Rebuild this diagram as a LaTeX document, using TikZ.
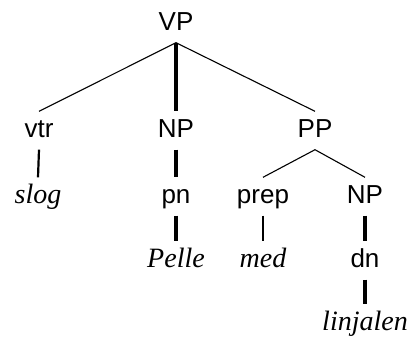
\documentclass[tikz,border=0pt]{standalone}
\usepackage{fontspec}
\setmainfont{Liberation Serif}
\setsansfont{Liberation Sans}
\begin{document}
\begin{tikzpicture}[x=1pt,y=-1pt,
  lab/.style={anchor=base,inner xsep=2pt,inner ysep=6.5pt,text height=19pt,text depth=6pt,font=\sffamily\fontsize{26}{30}\selectfont},
  wrd/.style={lab,font=\itshape\fontsize{28}{32}\selectfont},
  thin/.style={line width=1.1pt},
  mid/.style={line width=2.2pt},
  thick/.style={line width=3.4pt}]
\useasboundingbox (0,0) rectangle (413,341);
\node[lab] (vp) at (176,30) {VP};
\node[lab] (vtr) at (39,137) {vtr};
\node[lab] (np1) at (176,137) {NP};
\node[lab] (pp) at (315,137) {PP};
\node[wrd] (slog) at (38,203) {slog};
\node[lab] (pn) at (176,203) {pn};
\node[lab] (prep) at (263,203) {prep};
\node[lab] (np2) at (365,203) {NP};
\node[wrd] (pelle) at (176,267) {Pelle};
\node[wrd] (med) at (263,267) {med};
\node[lab] (dn) at (365,267) {dn};
\node[wrd] (lin) at (365,330) {linjalen};
\draw[thin] (vp.south) -- (vtr.north);
\draw[thick] (vp.south) -- (np1.north);
\draw[thin] (vp.south) -- (pp.north);
\draw[mid] (vtr.south) -- (slog.north);
\draw[thick] (np1.south) -- (pn.north);
\draw[thick] (pn.south) -- (pelle.north);
\draw[thin] (pp.south) -- (prep.north);
\draw[thin] (pp.south) -- (np2.north);
\draw[mid] (prep.south) -- (med.north);
\draw[thick] (np2.south) -- (dn.north);
\draw[thick] (dn.south) -- (lin.north);
\end{tikzpicture}
\end{document}
